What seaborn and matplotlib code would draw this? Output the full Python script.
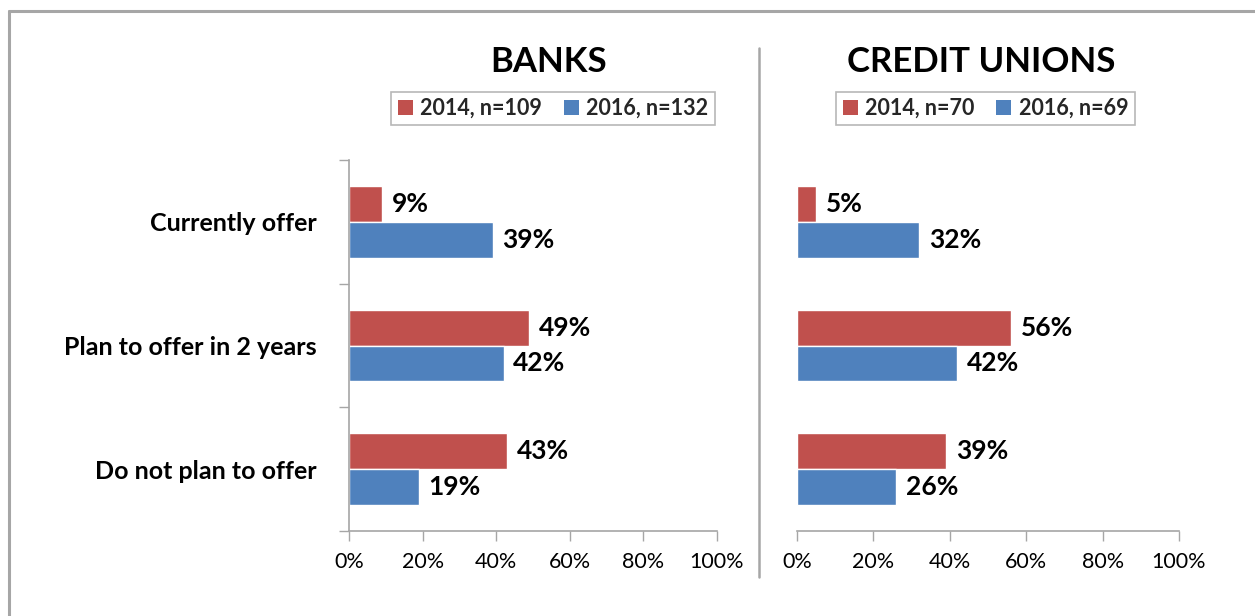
import matplotlib
matplotlib.use("Agg")
import matplotlib.pyplot as plt
from matplotlib.lines import Line2D
from matplotlib.patches import Patch
import seaborn as sns
import pandas as pd

# Survey responses (% of institutions)
categories = ["Currently offer", "Plan to offer in 2 years", "Do not plan to offer"]
banks_2014 = [9, 49, 43]
banks_2016 = [39, 42, 19]
cu_2014 = [5, 56, 39]
cu_2016 = [32, 42, 26]
banks_legend = ["2014, n=109", "2016, n=132"]
cu_legend = ["2014, n=70", "2016, n=69"]
xtick_labels = ["0%", "20%", "40%", "60%", "80%", "100%"]

RED = "#C0504D"
BLUE = "#4F81BD"
GRAY = "#A6A6A6"

sns.set_theme(style="white")
plt.rcParams["font.family"] = ["Lato", "DejaVu Sans"]

W, H = 1255, 616
fig = plt.figure(figsize=(W / 100, H / 100), dpi=100)


def frame(v2014, v2016):
    return pd.DataFrame({
        "category": categories * 2,
        "year": ["2014"] * 3 + ["2016"] * 3,
        "value": list(v2014) + list(v2016),
    })


def panel(rect, v2014, v2016, show_y):
    ax = fig.add_axes(rect)
    df = frame(v2014, v2016)
    sns.barplot(data=df, x="value", y="category", hue="year", order=categories,
                hue_order=["2014", "2016"], palette=[RED, BLUE], orient="h",
                width=0.58, saturation=1, legend=False, ax=ax)
    ax.set_xlim(0, 100)
    ax.set_ylim(2.5, -0.5)
    ax.set_xlabel("")
    ax.set_ylabel("")
    ax.set_xticks(range(0, 101, 20))
    ax.set_xticklabels(xtick_labels, fontsize=15.5, color="black")
    ax.tick_params(axis="x", length=7, width=1, color=GRAY, direction="out",
                   bottom=True, pad=8)
    for s in ["top", "right"]:
        ax.spines[s].set_visible(False)
    ax.spines["bottom"].set_color(GRAY)
    ax.spines["bottom"].set_linewidth(1.2)
    if show_y:
        ax.spines["left"].set_color(GRAY)
        ax.spines["left"].set_linewidth(1.2)
        ax.set_yticks([0, 1, 2])
        ax.set_yticklabels(categories, fontsize=18, fontweight="bold", color="black")
        ax.tick_params(axis="y", which="major", length=0, pad=23)
        ax.set_yticks([-0.5, 0.5, 1.5, 2.5], minor=True)
        ax.tick_params(axis="y", which="minor", length=7, width=1, color=GRAY,
                       direction="out", left=True)
    else:
        ax.spines["left"].set_visible(False)
        ax.set_yticks([])
    for cont in ax.containers:
        for bar, v in zip(cont, cont.datavalues):
            ax.annotate(f"{v:.0f}%", (bar.get_width(), bar.get_y() + bar.get_height() / 2),
                        xytext=(7, 0), textcoords="offset points", ha="left",
                        va="center", fontsize=19, fontweight="bold", color="black")
    return ax


bottom = (H - 531) / H
height = 371 / H
ax1 = panel([349 / W, bottom, 368 / W, height], banks_2014, banks_2016, True)
ax2 = panel([797 / W, bottom, 382 / W, height], cu_2014, cu_2016, False)

# Panel titles
fig.text(549 / W, 1 - 62 / H, "BANKS", ha="center", va="center",
         fontsize=25, fontweight="bold", color="black")
fig.text(981 / W, 1 - 62 / H, "CREDIT UNIONS", ha="center", va="center",
         fontsize=25, fontweight="bold", color="black")


def legend(labels, cx):
    handles = [Patch(facecolor=RED, edgecolor="none"), Patch(facecolor=BLUE, edgecolor="none")]
    lg = fig.legend(handles, labels, loc="center", bbox_to_anchor=(cx, 1 - 108.5 / H),
                    ncol=2, frameon=True, fancybox=False, edgecolor=GRAY,
                    prop={"weight": "bold", "size": 15.5}, handlelength=0.7,
                    handleheight=0.7, handletextpad=0.35, columnspacing=1.0,
                    borderpad=0.3, borderaxespad=0)
    lg.get_frame().set_linewidth(1.2)
    return lg


legend(banks_legend, 553 / W)
legend(cu_legend, 985.5 / W)

# Divider between the two panels
fig.add_artist(Line2D([759 / W, 759 / W], [1 - 48 / H, 1 - 577 / H], color=GRAY, lw=1.8))
# Outer border (top and left edges)
fig.add_artist(Line2D([9 / W, 9 / W], [1 - 10.5 / H, 0], color=GRAY, lw=2.2))
fig.add_artist(Line2D([9 / W, 1], [1 - 10.5 / H, 1 - 10.5 / H], color=GRAY, lw=2.2))

fig.savefig("out.png", dpi=100, facecolor="white")
